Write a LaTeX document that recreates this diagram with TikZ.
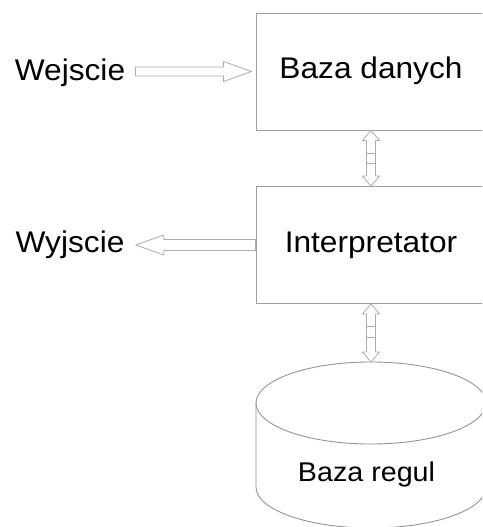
\documentclass[tikz,border=0pt]{standalone}
\usepackage{fontspec}
\setmainfont{Liberation Sans}[FakeStretch=1.06]
\usetikzlibrary{calc}

\begin{document}
\begin{tikzpicture}[line cap=round,line join=round,
  blok/.style={draw=gray!75,line width=0.5pt,minimum width=4.60cm,minimum height=2.34cm,
    text height=0.45cm,text depth=0.15cm,font=\fontsize{17}{20}\selectfont},
  napis/.style={anchor=base,inner sep=0pt,font=\fontsize{17}{20}\selectfont},
  strzalka/.style={draw=gray!65,line width=0.45pt,fill=white}]
\useasboundingbox (0,0) rectangle (9.64,10.54);
\clip (0,0) rectangle (9.64,10.54);
\fill[white] (0,0) rectangle (9.64,10.54);

% bloki i napisy
\node[blok] (baza) at (7.42,9.11) {Baza danych};
\node[blok] (interp) at (7.42,5.64) {Interpretator};
\node[napis] (wej) at (1.40,8.92) {Wejscie};
\node[napis] (wyj) at (1.40,5.48) {Wyjscie};

% baza regul (walec)
\draw[gray!85,line width=0.5pt] (5.12,2.48) -- (5.12,0.80) arc(180:360:2.30 and 0.82) -- (9.72,2.48);
\draw[gray!85,line width=0.5pt] (7.42,2.48) ellipse (2.30 and 0.82);
\coordinate (rtop) at (interp.south |- 0,3.30);
\node[napis,font=\fontsize{15.4}{18}\selectfont] (regul) at (7.33,0.90) {Baza regul};

% wejscie -> baza danych
\coordinate (we0) at ($(wej.east |- baza.west)+(0.20,0)$);
\coordinate (we1) at ($(baza.west)+(-0.08,0)$);
\draw[strzalka] ($(we0)+(0,0.09)$) -- ($(we1)+(-0.56,0.09)$) -- ($(we1)+(-0.56,0.2)$) -- (we1)
  -- ($(we1)+(-0.56,-0.2)$) -- ($(we1)+(-0.56,-0.09)$) -- ($(we0)+(0,-0.09)$) -- cycle;

% interpretator -> wyjscie
\coordinate (wy0) at (interp.west);
\coordinate (wy1) at ($(wyj.east |- interp.west)+(0.22,0)$);
\draw[strzalka] ($(wy0)+(0,0.11)$) -- ($(wy1)+(0.56,0.11)$) -- ($(wy1)+(0.56,0.2)$) -- (wy1)
  -- ($(wy1)+(0.56,-0.2)$) -- ($(wy1)+(0.56,-0.11)$) -- ($(wy0)+(0,-0.11)$) -- cycle;

% strzalki dwukierunkowe
\foreach \g/\d in {baza.south/interp.north,interp.south/rtop}{
  \draw[strzalka] (\g) -- ($(\g)+(0.17,-0.2)$) -- ($(\g)+(0.09,-0.2)$) -- ($(\d)+(0.09,0.2)$)
    -- ($(\d)+(0.17,0.2)$) -- (\d) -- ($(\d)+(-0.17,0.2)$) -- ($(\d)+(-0.09,0.2)$)
    -- ($(\g)+(-0.09,-0.2)$) -- ($(\g)+(-0.17,-0.2)$) -- cycle;
  \draw[gray!65,line width=0.45pt] ($(\g)+(-0.09,-0.45)$) -- ++(0.18,0);
  \draw[gray!65,line width=0.45pt] ($(\g)+(-0.09,-0.66)$) -- ++(0.18,0);
}
\end{tikzpicture}
\end{document}
